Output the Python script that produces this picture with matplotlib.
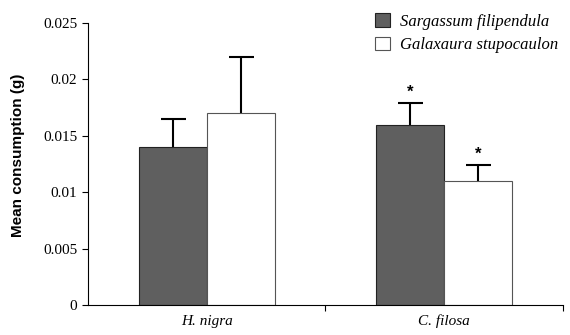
import matplotlib
matplotlib.use("Agg")
from matplotlib import pyplot as plt
import numpy as np

# Mean consumption by two sea urchins of two algae

predators = ["H. nigra", "C. filosa"]
species = ["Sargassum filipendula", "Galaxaura stupocaulon"]

sargassum = [0.014, 0.016]
sargassum_err = [0.0025, 0.0019]
galaxaura = [0.017, 0.011]
galaxaura_err = [0.005, 0.0014]
signif_sargassum = [False, True]
signif_galaxaura = [False, True]

fig = plt.figure(figsize=(5.7, 3.35), dpi=100)
ax = fig.add_axes([0.154, 0.09, 0.834, 0.841])

centers = np.arange(len(predators)) + 0.5
w = 0.286

ax.bar(centers - w/2, sargassum, w, color='#5f5f5f', edgecolor='#222222',
       linewidth=0.8, label=species[0], zorder=2)
ax.bar(centers + w/2, galaxaura, w, color='white', edgecolor='#555555',
       linewidth=0.8, label=species[1], zorder=2)

for xs, ys, es in [(centers - w/2, sargassum, sargassum_err),
                   (centers + w/2, galaxaura, galaxaura_err)]:
    _, caps, _ = ax.errorbar(xs, ys, yerr=[np.zeros(len(es)), es], fmt='none',
                             ecolor='black', elinewidth=1.5, capthick=1.5,
                             capsize=9, zorder=1)
    caps[0].set_visible(False)

for i in range(len(predators)):
    if signif_sargassum[i]:
        ax.text(centers[i] - w/2, sargassum[i] + sargassum_err[i] + 0.0003, '*',
                ha='center', va='bottom', fontsize=12, fontweight='bold', family='Liberation Sans')
    if signif_galaxaura[i]:
        ax.text(centers[i] + w/2, galaxaura[i] + galaxaura_err[i] + 0.0003, '*',
                ha='center', va='bottom', fontsize=12, fontweight='bold', family='Liberation Sans')

ax.set_xlim(0, 2)
ax.set_ylim(0, 0.025)
ax.set_yticks([0, 0.005, 0.01, 0.015, 0.02, 0.025])
ax.set_yticklabels(['0', '0.005', '0.01', '0.015', '0.02', '0.025'],
                   family='Liberation Serif', fontsize=11)
ax.set_xticks([1, 2])
ax.set_xticklabels([])
ax.set_xticks(centers, minor=True)
ax.set_xticklabels(predators, minor=True, family='Liberation Serif', style='italic', fontsize=11)
ax.tick_params(axis='x', which='minor', length=0, pad=7)
ax.tick_params(axis='x', which='major', direction='out', length=4)
ax.tick_params(axis='y', direction='out', length=4)
ax.spines['top'].set_visible(False)
ax.spines['right'].set_visible(False)
ax.set_ylabel('Mean consumption (g)', family='Liberation Sans', fontweight='bold', fontsize=11)
ax.yaxis.set_label_coords(-0.133, 0.532)

ax.legend(loc='upper right', bbox_to_anchor=(1.022, 1.088), frameon=False,
          prop={'family': 'Liberation Serif', 'style': 'italic', 'size': 12},
          handlelength=0.9, handleheight=0.9, handletextpad=0.6, labelspacing=0.4)

fig.savefig('out.png', dpi=100)
